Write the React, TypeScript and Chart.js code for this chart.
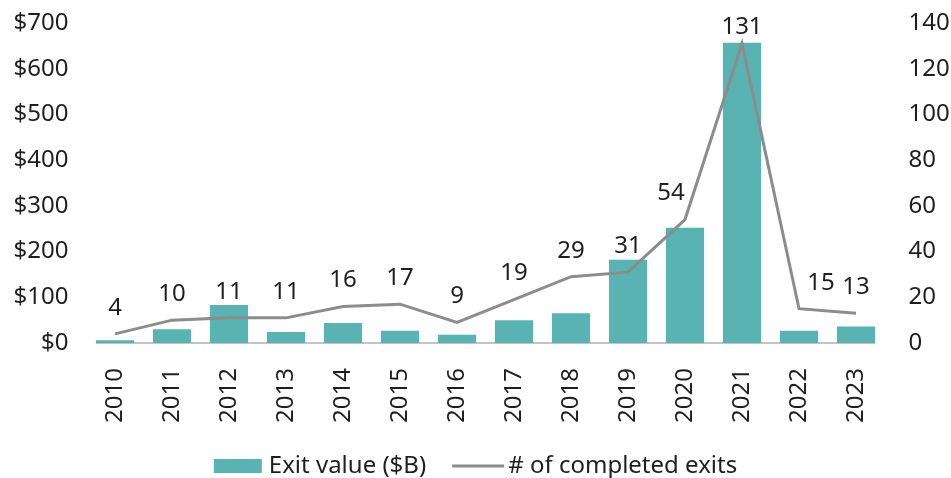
import React, { useEffect, useRef } from 'react';
import { Chart, registerables } from 'chart.js';

Chart.register(...registerables);

const years = ['2010', '2011', '2012', '2013', '2014', '2015', '2016', '2017', '2018', '2019', '2020', '2021', '2022', '2023'];
const exitValue = [6, 30, 83, 24, 44, 27, 18, 50, 65, 182, 252, 657, 27, 36];
const completedExits = [4, 10, 11, 11, 16, 17, 9, 19, 29, 31, 54, 131, 15, 13];
const barLabel = 'Exit value ($B)';
const lineLabel = '# of completed exits';
const leftMax = 700;
const leftStep = 100;
const rightMax = 140;
const rightStep = 20;
// horizontal nudges of a few point labels (layout only)
const labelNudge = [0, 0, 0, 0, 0, 0, 0, 0, 0, 0, -14, 0, 22, 0];

const FONT = '"Noto Sans", "DejaVu Sans", sans-serif';
const TEXT = '#1e1e1e';
const BAR = '#58b3b2';
const LINE = '#8c8c8c';
const AXIS = '#c4c4c4';
const NUM_SIZE = 24;

const overlayPlugin = {
  id: 'overlay',
  beforeDatasetsDraw(chart: any) {
    const ctx = chart.ctx;
    const meta = chart.getDatasetMeta(1);
    const first = meta.data[0];
    const last = meta.data[meta.data.length - 1];
    const y0 = chart.scales.y.getPixelForValue(0);
    ctx.save();
    ctx.strokeStyle = AXIS;
    ctx.lineWidth = 2;
    ctx.beginPath();
    ctx.moveTo(first.x - first.width / 2, y0);
    ctx.lineTo(last.x + last.width / 2, y0);
    ctx.stroke();
    ctx.restore();
  },
  afterDatasetsDraw(chart: any) {
    const ctx = chart.ctx;
    const meta = chart.getDatasetMeta(0);
    ctx.save();
    ctx.font = `${NUM_SIZE}px ${FONT}`;
    ctx.fillStyle = TEXT;
    ctx.textAlign = 'center';
    ctx.textBaseline = 'middle';
    meta.data.forEach((pt: any, i: number) => {
      const y = Math.max(pt.y - 26, chart.chartArea.top + 4);
      ctx.fillText(String(completedExits[i]), pt.x + labelNudge[i], y);
    });
    ctx.restore();
  },
  afterDraw(chart: any) {
    const ctx = chart.ctx;
    ctx.save();
    ctx.font = `24px ${FONT}`;
    const w1 = ctx.measureText(barLabel).width;
    const w2 = ctx.measureText(lineLabel).width;
    const boxW = 48, gap1 = 7, itemGap = 26, lineW = 52, gap2 = 4;
    const total = boxW + gap1 + w1 + itemGap + lineW + gap2 + w2;
    let x = (chart.width - total) / 2;
    const cy = 466;
    ctx.fillStyle = BAR;
    ctx.fillRect(x, cy - 7, boxW, 14);
    x += boxW + gap1;
    ctx.fillStyle = TEXT;
    ctx.textAlign = 'left';
    ctx.textBaseline = 'middle';
    ctx.fillText(barLabel, x, cy);
    x += w1 + itemGap;
    ctx.strokeStyle = LINE;
    ctx.lineWidth = 3;
    ctx.beginPath();
    ctx.moveTo(x, cy);
    ctx.lineTo(x + lineW, cy);
    ctx.stroke();
    x += lineW + gap2;
    ctx.fillText(lineLabel, x, cy);
    ctx.restore();
  },
};

export default function App() {
  const ref = useRef<HTMLCanvasElement>(null);
  useEffect(() => {
    document.body.style.margin = '0';
    const chart = new Chart(ref.current as HTMLCanvasElement, {
      type: 'bar',
      data: {
        labels: years,
        datasets: [
          {
            type: 'line',
            label: lineLabel,
            data: completedExits,
            borderColor: LINE,
            backgroundColor: LINE,
            borderWidth: 3,
            pointRadius: 0,
            tension: 0,
            yAxisID: 'y1',
            order: 0,
          } as any,
          {
            type: 'bar',
            label: barLabel,
            data: exitValue,
            backgroundColor: BAR,
            borderWidth: 0,
            categoryPercentage: 1,
            barPercentage: 0.67,
            yAxisID: 'y',
            order: 1,
          },
        ],
      },
      options: {
        responsive: false,
        animation: false,
        layout: { padding: { top: 23, left: 0, right: 0, bottom: 0 } },
        plugins: {
          legend: { display: false },
          tooltip: { enabled: false },
        },
        scales: {
          x: {
            offset: true,
            grid: { display: false, drawTicks: false },
            border: { display: false },
            ticks: {
              color: TEXT,
              font: { family: FONT, size: NUM_SIZE },
              minRotation: 90,
              maxRotation: 90,
              padding: 25,
              autoSkip: false,
            },
            afterFit: (s: any) => { s.height = 135; s.paddingLeft = 0; s.paddingRight = 0; },
          },
          y: {
            position: 'left',
            min: 0,
            max: leftMax,
            grid: { display: false, drawTicks: false },
            border: { display: false },
            ticks: {
              stepSize: leftStep,
              color: TEXT,
              font: { family: FONT, size: NUM_SIZE },
              padding: 18,
              callback: (v: any) => '$' + v,
            },
            afterFit: (s: any) => { s.width = 86.5; s.paddingTop = 0; s.paddingBottom = 0; },
          },
          y1: {
            position: 'right',
            min: 0,
            max: rightMax,
            grid: { display: false, drawTicks: false },
            border: { display: false },
            ticks: {
              stepSize: rightStep,
              color: TEXT,
              font: { family: FONT, size: NUM_SIZE },
              padding: 24,
            },
            afterFit: (s: any) => { s.width = 66.5; s.paddingTop = 0; s.paddingBottom = 0; },
          },
        },
      },
      plugins: [overlayPlugin],
    });
    return () => chart.destroy();
  }, []);
  return (
    <div style={{ width: 951, height: 478 }}>
      <canvas ref={ref} width={951} height={478} style={{ display: 'block' }} />
    </div>
  );
}
